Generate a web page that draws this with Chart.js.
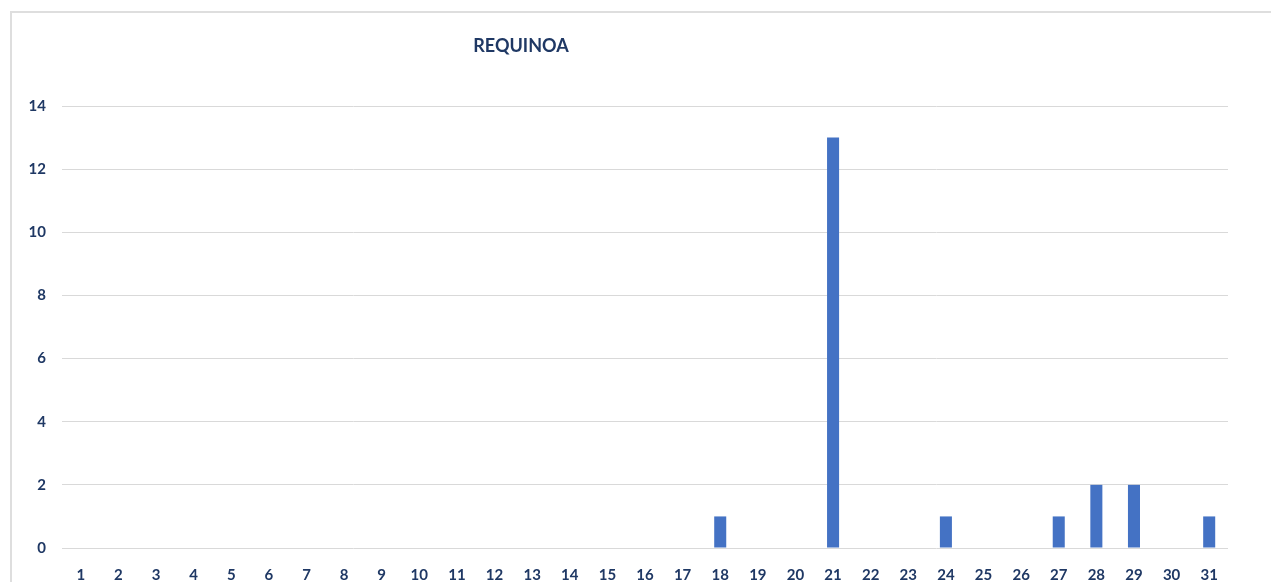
<!DOCTYPE html>
<html>
<head>
<meta charset="utf-8">
<script src="https://cdn.jsdelivr.net/npm/chart.js@4.4.1/dist/chart.umd.min.js"></script>
<style>
  html, body { margin: 0; padding: 0; background: #ffffff; overflow: hidden; }
  #frame { position: absolute; left: 10px; top: 11px; width: 1400px; height: 700px;
           border-top: 2px solid #dedede; border-left: 2px solid #dedede; box-sizing: border-box; }
  #wrap { position: absolute; left: 0; top: 0; width: 1271px; height: 582px; }
</style>
</head>
<body>
<div id="frame"></div>
<div id="wrap"><canvas id="c" width="1271" height="582"></canvas></div>
<script>
// Days of the month and number of cases per day
const days = ['1','2','3','4','5','6','7','8','9','10','11','12','13','14','15','16',
              '17','18','19','20','21','22','23','24','25','26','27','28','29','30','31'];
const cases = [0,0,0,0,0,0,0,0,0,0,0,0,0,0,0,0,0,1,0,0,13,0,0,1,0,0,1,2,2,0,1];
const yTicks = [0, 2, 4, 6, 8, 10, 12, 14];
const chartTitle = 'REQUINOA';

const labelColor = '#1f3864';
const gridColor = '#d9d9d9';
const fontFamily = 'Lato, "Open Sans", sans-serif';

// Title drawn left of the plot centre, above the gridlines
const titlePlugin = {
  id: 'offsetTitle',
  afterDraw(chart) {
    const ctx = chart.ctx;
    ctx.save();
    ctx.font = 'bold 18px ' + fontFamily;
    ctx.fillStyle = labelColor;
    ctx.textAlign = 'center';
    ctx.textBaseline = 'middle';
    ctx.fillText(chartTitle, 521, 46);
    ctx.restore();
  }
};

new Chart(document.getElementById('c'), {
  type: 'bar',
  data: {
    labels: days,
    datasets: [{
      data: cases,
      backgroundColor: '#4472c4',
      categoryPercentage: 1.0,
      barPercentage: 0.32
    }]
  },
  plugins: [titlePlugin],
  options: {
    responsive: false,
    animation: false,
    layout: { padding: { left: 0, right: 43, top: 106, bottom: 0 } },
    plugins: { legend: { display: false }, tooltip: { enabled: false }, title: { display: false } },
    scales: {
      x: {
        grid: { display: false, drawTicks: false },
        border: { display: false },
        ticks: {
          color: labelColor,
          font: { family: fontFamily, size: 15, weight: 'bold' },
          padding: 18,
          maxRotation: 0,
          autoSkip: false
        },
        afterFit(scale) { scale.height = 34; }
      },
      y: {
        min: 0,
        max: 14,
        afterBuildTicks(scale) { scale.ticks = yTicks.map(v => ({ value: v })); },
        grid: { color: gridColor, lineWidth: 1, drawTicks: false },
        border: { display: false },
        ticks: {
          color: labelColor,
          font: { family: fontFamily, size: 15, weight: 'bold' },
          padding: 16
        },
        afterFit(scale) { scale.width = 62; }
      }
    }
  }
});
</script>
</body>
</html>
